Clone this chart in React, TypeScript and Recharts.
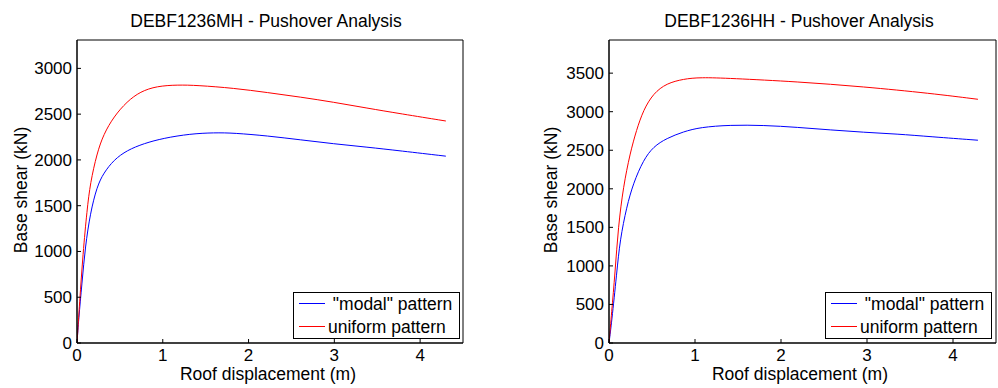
import React from 'react';
import { LineChart, Line, XAxis, YAxis, Legend } from 'recharts';

const dispTicks = [0, 1, 2, 3, 4];
const mhShearTicks = [0, 500, 1000, 1500, 2000, 2500, 3000];
const hhShearTicks = [0, 500, 1000, 1500, 2000, 2500, 3000, 3500];

const seriesNames = [' "modal" pattern', 'uniform pattern'];
const seriesColors = ['#0000ff', '#ff0000'];

// DEBF1236MH
const mhModalDisp = [0, 0.019, 0.058, 0.097, 0.155, 0.233, 0.31, 0.43, 0.583, 0.78, 1.01, 1.32, 1.6, 1.83, 2.22, 2.61, 2.99, 3.38, 3.77, 4.3];
const mhModalShear = [0, 254, 655, 1055, 1419, 1710, 1856, 2001, 2105, 2180, 2238, 2285, 2298, 2294, 2263, 2219, 2176, 2140, 2099, 2041];
const mhUniformDisp = [0, 0.03, 0.07, 0.117, 0.155, 0.233, 0.31, 0.43, 0.583, 0.739, 0.93, 1.17, 1.4, 1.83, 2.22, 2.61, 2.99, 3.38, 3.77, 4.3];
const mhUniformShear = [0, 440, 980, 1455, 1747, 2074, 2280, 2474, 2638, 2747, 2806, 2820, 2815, 2784, 2736, 2686, 2631, 2566, 2505, 2425];

// DEBF1236HH
const hhModalDisp = [0, 0.03, 0.09, 0.128, 0.206, 0.283, 0.4, 0.516, 0.67, 0.866, 1.06, 1.41, 1.8, 2.19, 2.58, 2.96, 3.35, 3.74, 4.29];
const hhModalShear = [0, 259, 907, 1338, 1769, 2073, 2374, 2547, 2655, 2741, 2798, 2828, 2824, 2798, 2763, 2733, 2711, 2676, 2630];
const hhUniformDisp = [0, 0.03, 0.07, 0.108, 0.167, 0.245, 0.32, 0.4, 0.516, 0.67, 0.866, 1.06, 1.41, 2.19, 2.96, 3.74, 4.29];
const hhUniformShear = [0, 389, 907, 1510, 2028, 2461, 2763, 3022, 3238, 3368, 3424, 3446, 3433, 3389, 3324, 3238, 3161];

const FONT = '"Liberation Sans", Arial, Helvetica, sans-serif';

const zip = (xs: number[], ys: number[]) => xs.map((x, i) => ({ x, y: ys[i] }));

function LegendBox(props: any) {
  const payload = props.payload || [];
  return (
    <div
      style={{
        position: 'relative',
        width: 167,
        height: 47,
        border: '1px solid #000',
        background: '#fff',
        fontFamily: FONT,
        fontSize: 17.5,
        color: '#000',
        boxSizing: 'border-box',
      }}
    >
      {payload.map((p: any, i: number) => (
        <div key={i} style={{ position: 'absolute', left: 0, top: i * 23.4, height: 23, width: '100%' }}>
          <div
            style={{
              position: 'absolute',
              left: 5,
              top: 10,
              width: 26,
              height: 0,
              borderTop: `1px solid ${p.color}`,
            }}
          />
          <div
            style={{
              position: 'absolute',
              left: 34,
              top: 1,
              lineHeight: '20px',
              whiteSpace: 'pre',
            }}
          >
            {p.value}
          </div>
        </div>
      ))}
    </div>
  );
}

type PanelProps = {
  left: number;
  width: number;
  yMax: number;
  yTicks: number[];
  modal: { x: number; y: number }[];
  uniform: { x: number; y: number }[];
  rightW: number;
};

function Panel({ left, width, yMax, yTicks, modal, uniform, rightW }: PanelProps) {
  const tickStyle = { fill: '#000', fontSize: 17, fontFamily: FONT };
  return (
    <div style={{ position: 'absolute', left, top: 0 }}>
      <LineChart width={width} height={388} margin={{ top: 0, right: 0, bottom: 0, left: 0 }}>
        <XAxis
          xAxisId="b"
          type="number"
          dataKey="x"
          domain={[0, 4.5]}
          ticks={dispTicks}
          allowDataOverflow
          height={45}
          tickSize={-4}
          tickMargin={10}
          tick={tickStyle}
          axisLine={{ stroke: '#000', strokeWidth: 1.5 }}
          tickLine={{ stroke: '#000' }}
        />
        <XAxis
          xAxisId="t"
          orientation="top"
          type="number"
          dataKey="x"
          domain={[0, 4.5]}
          ticks={dispTicks}
          allowDataOverflow
          height={40}
          tickSize={-4}
          tick={false}
          axisLine={{ stroke: '#000' }}
          tickLine={{ stroke: '#000' }}
        />
        <YAxis
          yAxisId="l"
          type="number"
          domain={[0, yMax]}
          ticks={yTicks}
          allowDataOverflow
          width={77}
          tickSize={-4}
          tickMargin={9}
          tick={tickStyle}
          axisLine={{ stroke: '#000', strokeWidth: 1.5 }}
          tickLine={{ stroke: '#000' }}
        />
        <YAxis
          yAxisId="r"
          orientation="right"
          type="number"
          domain={[0, yMax]}
          ticks={yTicks}
          allowDataOverflow
          width={rightW}
          tickSize={-4}
          tick={false}
          axisLine={{ stroke: '#000' }}
          tickLine={{ stroke: '#000' }}
        />
        <Line
          xAxisId="b"
          yAxisId="l"
          data={modal}
          dataKey="y"
          name={seriesNames[0]}
          type="basis"
          stroke={seriesColors[0]}
          strokeWidth={1}
          dot={false}
          isAnimationActive={false}
        />
        <Line
          xAxisId="b"
          yAxisId="l"
          data={uniform}
          dataKey="y"
          name={seriesNames[1]}
          type="basis"
          stroke={seriesColors[1]}
          strokeWidth={1}
          dot={false}
          isAnimationActive={false}
        />
        <Legend
          layout="horizontal"
          verticalAlign="middle"
          align="center"
          content={<LegendBox />}
          wrapperStyle={{ left: 293, top: 292, width: 167, height: 47 }}
        />
      </LineChart>
    </div>
  );
}

const textBase: React.CSSProperties = {
  position: 'absolute',
  fontFamily: FONT,
  fontSize: 17.5,
  color: '#000',
  whiteSpace: 'nowrap',
  lineHeight: '20px',
};

function CenteredText({ cx, cy, text, rotate }: { cx: number; cy: number; text: string; rotate?: boolean }) {
  return (
    <div
      style={{
        ...textBase,
        left: cx - 200,
        top: cy - 10,
        width: 400,
        textAlign: 'center',
        transform: rotate ? 'rotate(-90deg)' : undefined,
        transformOrigin: '50% 50%',
      }}
    >
      {text}
    </div>
  );
}

export default function App() {
  return (
    <div style={{ position: 'absolute', left: 0, top: 0, width: 998, height: 388, background: '#fff', overflow: 'hidden' }}>
      <Panel
        left={0}
        width={480}
        yMax={3310}
        yTicks={mhShearTicks}
        modal={zip(mhModalDisp, mhModalShear)}
        uniform={zip(mhUniformDisp, mhUniformShear)}
        rightW={17}
      />
      <Panel
        left={532}
        width={466}
        yMax={3930}
        yTicks={hhShearTicks}
        modal={zip(hhModalDisp, hhModalShear)}
        uniform={zip(hhUniformDisp, hhUniformShear)}
        rightW={2}
      />
      <CenteredText cx={266} cy={21} text="DEBF1236MH - Pushover Analysis" />
      <CenteredText cx={799} cy={21} text="DEBF1236HH - Pushover Analysis" />
      <CenteredText cx={268} cy={374} text="Roof displacement (m)" />
      <CenteredText cx={800} cy={374} text="Roof displacement (m)" />
      <CenteredText cx={21} cy={190} text="Base shear (kN)" rotate />
      <CenteredText cx={551} cy={190} text="Base shear (kN)" rotate />
    </div>
  );
}
